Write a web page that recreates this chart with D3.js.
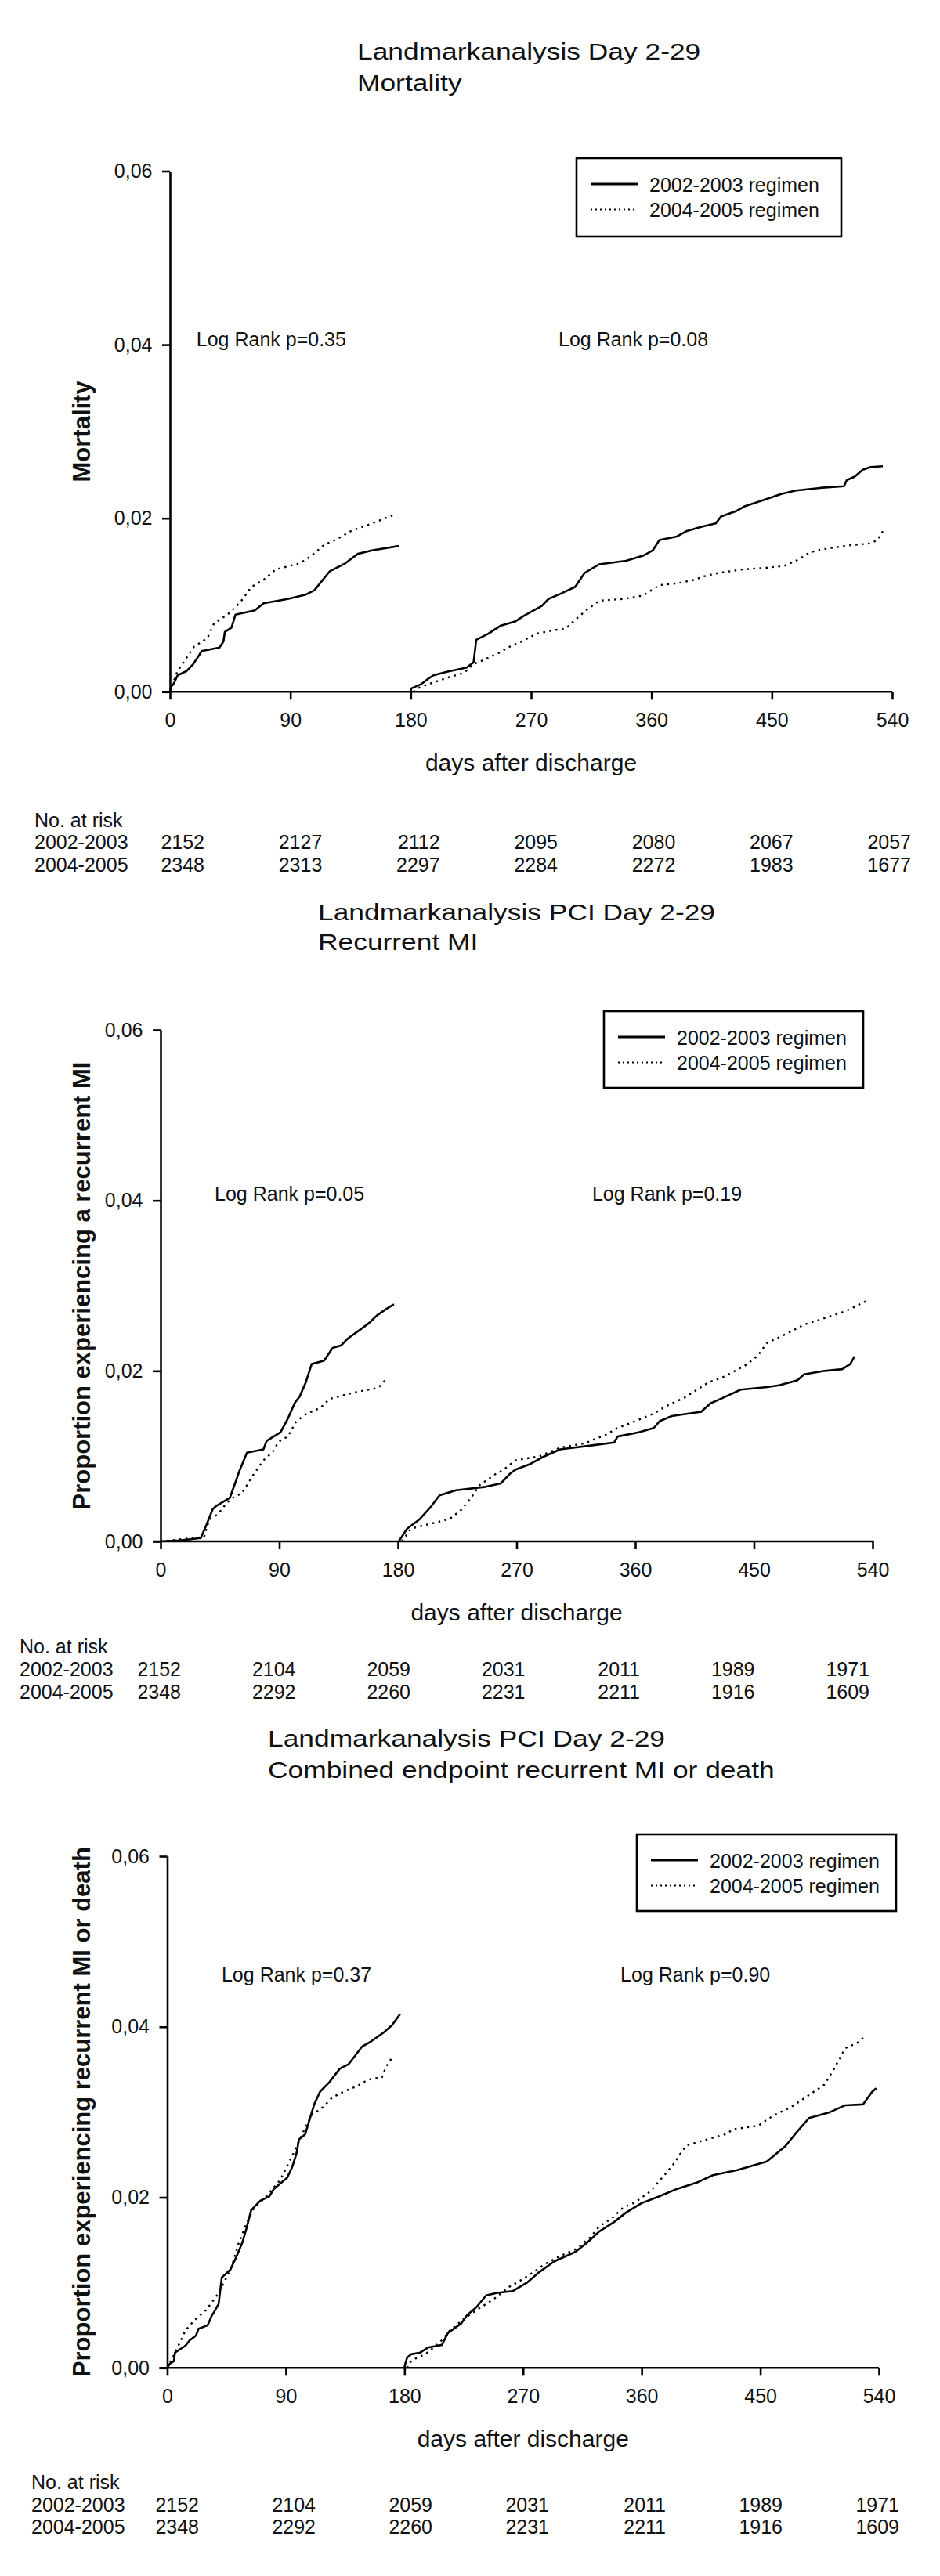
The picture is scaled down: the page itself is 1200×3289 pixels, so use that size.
<!DOCTYPE html>
<html><head><meta charset="utf-8">
<script src="https://cdn.jsdelivr.net/npm/d3@7"></script>
<style>
body{margin:0;background:#fff}
svg{display:block}
text{font-family:"Liberation Sans",Arial,sans-serif;fill:#111}
</style>
</head><body>
<svg id="chart" width="1200" height="3289"></svg>
<script>
// ---------- tick labels / categories ----------
const xTicks = [0, 90, 180, 270, 360, 450, 540];
const yTicks = [0, 0.02, 0.04, 0.06];
const seriesNames = ["2002-2003 regimen", "2004-2005 regimen"];
const riskRowLabels = ["2002-2003", "2004-2005"];
const riskDays = [0, 90, 180, 270, 360, 450, 540];

// ---------- Panel 1: Mortality ----------
const p1_0203_early = [[0,0],[0.9,0.0006],[3,0.001],[5.7,0.0019],[12.5,0.0024],[17.4,0.0032],[21.3,0.0041],[23.7,0.0047],[37,0.0051],[40,0.0058],[41,0.0069],[46,0.0074],[49,0.0089],[63.5,0.0094],[70,0.0102],[88,0.0107],[101.6,0.0112],[108,0.0117],[119.5,0.0139],[131,0.0148],[140.5,0.0159],[151,0.0163],[171,0.0168]];
const p1_0405_early = [[0,0],[2,0.0008],[4.5,0.002],[6.6,0.0026],[10.5,0.0035],[14.5,0.0044],[18,0.0052],[28,0.0062],[33,0.0079],[43,0.0089],[52,0.0102],[61,0.0121],[70,0.0129],[79,0.0141],[97,0.0148],[106,0.0157],[115,0.0169],[126,0.0177],[135,0.0185],[151,0.0194],[169,0.0205]];
const p1_0203_late = [[180,0],[180.5,0.0004],[188,0.0009],[193,0.0015],[197,0.0019],[207,0.0023],[222,0.0028],[227,0.0034],[229,0.006],[238,0.0067],[247,0.0076],[258,0.0081],[265,0.0088],[278,0.0099],[283,0.0107],[292,0.0113],[303,0.0121],[310,0.0137],[321,0.0147],[341,0.0151],[354,0.0157],[361,0.0163],[366,0.0175],[379,0.0179],[386,0.0185],[397,0.019],[408,0.0194],[412,0.0202],[423,0.0208],[430,0.0214],[442,0.022],[457,0.0228],[468,0.0232],[486,0.0235],[504,0.0237],[506,0.0244],[512,0.0248],[518,0.0256],[524,0.0259],[533,0.026]];
const p1_0405_late = [[182,0],[186.6,0.0005],[195.5,0.001],[207,0.0016],[220,0.0022],[227,0.0032],[233.5,0.0036],[245,0.0044],[254,0.0052],[263,0.0058],[274,0.0067],[287,0.0071],[296,0.0073],[303,0.0083],[312,0.0095],[321,0.0105],[339,0.0107],[354,0.0111],[366,0.0123],[379,0.0125],[392,0.0129],[399,0.0133],[410,0.0137],[428,0.0141],[446,0.0143],[459,0.0145],[468,0.0151],[479,0.0161],[491,0.0165],[509,0.0169],[524,0.0171],[529,0.0175],[533,0.0185]];
const p1_risk0203 = [2152, 2127, 2112, 2095, 2080, 2067, 2057];
const p1_risk0405 = [2348, 2313, 2297, 2284, 2272, 1983, 1677];

// ---------- Panel 2: Recurrent MI ----------
const p2_0203_early = [[0,0],[14.6,0.0001],[30.5,0.0004],[34.7,0.0019],[39.6,0.0038],[42.6,0.0042],[52.5,0.0051],[56.5,0.0068],[59.4,0.0081],[65.5,0.0104],[78,0.0108],[80.5,0.0118],[91,0.0128],[96.5,0.0144],[102,0.0163],[105.5,0.017],[110,0.0186],[114.6,0.0208],[124,0.0212],[130.5,0.0227],[137,0.023],[142,0.0238],[151,0.0248],[158,0.0256],[164,0.0265],[171.5,0.0273],[177,0.0278]];
const p2_0405_early = [[0,0],[19,0.0003],[33,0.0005],[36.7,0.0025],[43.6,0.0032],[50,0.0045],[56.5,0.0053],[61.4,0.0056],[66.4,0.0068],[69.4,0.0076],[78,0.0095],[85,0.0105],[89.6,0.0117],[96.5,0.0123],[103,0.0141],[110,0.0149],[121.5,0.0157],[128,0.0167],[140,0.0172],[151,0.0176],[165,0.018],[171.5,0.0191]];
const p2_0203_late = [[180.6,0],[187,0.0015],[196.5,0.0026],[204.7,0.004],[211.5,0.0054],[224,0.006],[246.5,0.0064],[258,0.0068],[264.7,0.0079],[269,0.0084],[280.7,0.0091],[290,0.0099],[303,0.0108],[324,0.0112],[344,0.0116],[346.6,0.0123],[362.6,0.0128],[374,0.0133],[378.5,0.0141],[387.6,0.0147],[410,0.0152],[417,0.0162],[426,0.0168],[440,0.0178],[460,0.0181],[469,0.0183],[483,0.0189],[488,0.0196],[503.6,0.02],[517,0.0202],[523,0.0208],[526.3,0.0217]];
const p2_0405_late = [[183,0],[190,0.0015],[205.6,0.0021],[219,0.0026],[228,0.0037],[235,0.005],[242,0.0066],[253,0.0078],[260,0.0084],[269,0.0095],[287.5,0.01],[303,0.011],[321.6,0.0115],[337.5,0.0125],[346.6,0.0133],[360,0.0141],[374,0.015],[385,0.016],[396.7,0.0168],[415,0.0186],[428.5,0.0194],[444,0.0207],[453,0.0218],[460,0.0233],[474,0.0243],[487.6,0.0254],[503.6,0.0262],[519.5,0.027],[535.4,0.0282]];
const p2_risk0203 = [2152, 2104, 2059, 2031, 2011, 1989, 1971];
const p2_risk0405 = [2348, 2292, 2260, 2231, 2211, 1916, 1609];

// ---------- Panel 3: Combined endpoint ----------
const p3_0203_early = [[0,0],[2,0.0005],[5,0.0008],[5.9,0.0018],[13.8,0.0026],[16.8,0.0032],[21.8,0.0038],[23.8,0.0046],[30.7,0.005],[33.7,0.0061],[36.1,0.0067],[39,0.0075],[41.4,0.0106],[47.8,0.0115],[52.4,0.013],[57,0.0147],[60,0.0163],[63.7,0.0185],[70.6,0.0196],[77.4,0.0201],[81,0.021],[91,0.0223],[94.7,0.0235],[98,0.0251],[100,0.0268],[104.7,0.0274],[111.5,0.0309],[116,0.0324],[123,0.0335],[131,0.0351],[137.5,0.0356],[148,0.0377],[154.8,0.0383],[164,0.0393],[170.7,0.0402],[176.7,0.0415]];
const p3_0405_early = [[0,0],[3.9,0.0011],[7.8,0.0024],[13.8,0.0044],[20.7,0.0056],[26.6,0.0064],[29.6,0.0068],[37.3,0.0084],[43,0.01],[49,0.0119],[53.7,0.0144],[60,0.0169],[66,0.0188],[75,0.0201],[85.6,0.022],[95.6,0.0251],[102.4,0.0274],[109.3,0.0296],[118.4,0.0306],[125,0.0317],[134,0.0324],[143.4,0.033],[152.5,0.0338],[163,0.0341],[166,0.0353],[170.7,0.0364]];
const p3_0203_late = [[180,0],[180.5,0.0004],[182,0.0012],[185,0.0016],[192,0.0018],[198,0.0024],[208.5,0.0027],[213,0.0041],[223,0.0052],[227.6,0.0062],[234.5,0.0071],[242,0.0085],[250.4,0.0088],[262,0.009],[273,0.01],[282,0.0112],[293.7,0.0125],[309.6,0.0136],[318.7,0.0147],[327.8,0.016],[339,0.0171],[348,0.0182],[359.7,0.0193],[373,0.0201],[387,0.021],[403,0.0218],[414,0.0226],[432.5,0.0232],[455,0.0242],[462,0.0251],[469,0.026],[478,0.0277],[487,0.0293],[503,0.03],[514.5,0.0308],[528,0.0309],[535,0.0324],[538,0.0328]];
const p3_0405_late = [[182,0],[183.6,0.0006],[188.5,0.0011],[195.8,0.0016],[207,0.003],[214,0.0043],[225.4,0.0058],[237,0.007],[248,0.0081],[259.5,0.0095],[268.6,0.0103],[277.7,0.0112],[286.8,0.0122],[298,0.0131],[309.6,0.0139],[321,0.0153],[327.8,0.0166],[337,0.0175],[346,0.0188],[355,0.0194],[366.5,0.0207],[375.6,0.0223],[384.7,0.024],[389.3,0.0251],[394,0.0261],[409.8,0.0268],[423.5,0.0274],[430,0.028],[448.5,0.0284],[460,0.0296],[473.5,0.0306],[487,0.032],[498.5,0.0332],[505,0.0348],[514.5,0.0375],[523.6,0.0381],[528,0.0387]];
const p3_risk0203 = [2152, 2104, 2059, 2031, 2011, 1989, 1971];
const p3_risk0405 = [2348, 2292, 2260, 2231, 2211, 1916, 1609];

// ---------- texts ----------
const titles = [
  ["Landmarkanalysis Day 2-29", "Mortality"],
  ["Landmarkanalysis PCI Day 2-29", "Recurrent MI"],
  ["Landmarkanalysis PCI Day 2-29", "Combined endpoint recurrent MI or death"]
];
const yLabels = ["Mortality", "Proportion experiencing a recurrent MI", "Proportion experiencing recurrent MI or death"];
const logRanks = [
  ["Log Rank p=0.35", "Log Rank p=0.08"],
  ["Log Rank p=0.05", "Log Rank p=0.19"],
  ["Log Rank p=0.37", "Log Rank p=0.90"]
];

// ---------- layout (pixels) ----------
const layouts = [
  {x0:217, x1:1139, yTop:218.5, yBot:883.3, tx:456, ty1:76, ty2:116,
   leg:{x:736, y:202, w:338, h:100}, lrY:0.0398, lrX:[19.8, 290.5],
   riskX:[261, 1163], riskLabelX:44, riskY:[1056, 1084, 1113]},
  {x0:205, x1:1114, yTop:1315, yBot:1968, tx:406, ty1:1175, ty2:1213,
   leg:{x:771, y:1291, w:331, h:98}, lrY:0.0400, lrX:[41, 327.3],
   riskX:[231, 1110], riskLabelX:25, riskY:[2111, 2140, 2168.5]},
  {x0:213.5, x1:1122, yTop:2370, yBot:3023.3, tx:342, ty1:2230, ty2:2270,
   leg:{x:813, y:2342, w:331, h:98}, lrY:0.0453, lrX:[41.3, 343.9],
   riskX:[254, 1148], riskLabelX:40, riskY:[3178, 3206.5, 3235]}
];

const panelSeries = [
  [[p1_0203_early, p1_0203_late], [p1_0405_early, p1_0405_late]],
  [[p2_0203_early, p2_0203_late], [p2_0405_early, p2_0405_late]],
  [[p3_0203_early, p3_0203_late], [p3_0405_early, p3_0405_late]]
];
const panelRisk = [[p1_risk0203, p1_risk0405], [p2_risk0203, p2_risk0405], [p3_risk0203, p3_risk0405]];

const dashes = [null, "2.5 5.5"];
const svg = d3.select("#chart");
const fmtY = v => d3.format(".2f")(v).replace(".", ",");

layouts.forEach((L, i) => {
  const g = svg.append("g");
  const x = d3.scaleLinear().domain([0, 540]).range([L.x0, L.x1]);
  const y = d3.scaleLinear().domain([0, 0.06]).range([L.yBot, L.yTop]);

  // title (stretched horizontally like the reference)
  titles[i].forEach((t, k) => {
    g.append("text")
      .attr("transform", `translate(${L.tx},${k === 0 ? L.ty1 : L.ty2}) scale(1.22,1)`)
      .attr("font-size", 29).text(t);
  });

  // axes
  const xAxis = d3.axisBottom(x).tickValues(xTicks).tickSize(10).tickSizeOuter(0).tickPadding(17)
    .tickFormat(d3.format("d"));
  const yAxis = d3.axisLeft(y).tickValues(yTicks).tickSize(10).tickSizeOuter(0).tickPadding(12.5)
    .tickFormat(fmtY);
  const gx = g.append("g").attr("transform", `translate(0,${L.yBot})`).call(xAxis);
  const gy = g.append("g").attr("transform", `translate(${L.x0},0)`).call(yAxis);
  [gx, gy].forEach(a => {
    a.selectAll("path,line").attr("stroke", "#000").attr("stroke-width", 2.6);
    a.selectAll("text").attr("font-size", 25).attr("fill", "#111")
      .style("font-family", '"Liberation Sans",Arial,sans-serif');
  });
  // x-axis line continues left to the 0,00 tick end
  gx.select(".domain").attr("d", `M${L.x0 - 10},0H${L.x1}`);

  // curves
  const line = d3.line().x(d => x(d[0])).y(d => y(d[1]));
  panelSeries[i].forEach((parts, s) => {
    parts.forEach(p => {
      g.append("path").datum(p).attr("d", line)
        .attr("fill", "none").attr("stroke", "#000")
        .attr("stroke-width", s === 0 ? 2.6 : 2.4)
        .attr("stroke-linejoin", "round")
        .attr("stroke-dasharray", dashes[s]);
    });
  });

  // log rank annotations
  logRanks[i].forEach((t, k) => {
    g.append("text").attr("x", x(L.lrX[k])).attr("y", y(L.lrY))
      .attr("font-size", 25).text(t);
  });

  // legend
  const lg = g.append("g").attr("transform", `translate(${L.leg.x},${L.leg.y})`);
  lg.append("rect").attr("width", L.leg.w).attr("height", L.leg.h)
    .attr("fill", "#fff").attr("stroke", "#000").attr("stroke-width", 2.6);
  seriesNames.forEach((n, k) => {
    const yy = 33 + k * 32.5;
    lg.append("line").attr("x1", 18).attr("x2", 78).attr("y1", yy).attr("y2", yy)
      .attr("stroke", "#000").attr("stroke-width", k === 0 ? 3 : 2)
      .attr("stroke-dasharray", k === 0 ? null : "2 4");
    lg.append("text").attr("x", 93).attr("y", yy + 9.5).attr("font-size", 25).text(n);
  });

  // y label
  const cy = (L.yTop + L.yBot) / 2;
  g.append("text").attr("transform", `translate(115,${cy}) rotate(-90)`)
    .attr("text-anchor", "middle").attr("font-weight", "bold").attr("font-size", 31)
    .text(yLabels[i]);

  // x label
  g.append("text").attr("x", (L.x0 + L.x1) / 2).attr("y", L.yBot + 101)
    .attr("text-anchor", "middle").attr("font-size", 30).text("days after discharge");

  // number at risk table
  const rx = d3.scaleLinear().domain([0, 540]).range(L.riskX);
  g.append("text").attr("x", L.riskLabelX).attr("y", L.riskY[0]).attr("font-size", 25).text("No. at risk");
  panelRisk[i].forEach((row, r) => {
    g.append("text").attr("x", L.riskLabelX).attr("y", L.riskY[r + 1]).attr("font-size", 25).text(riskRowLabels[r]);
    g.selectAll(null).data(row).enter().append("text")
      .attr("x", (d, j) => rx(riskDays[j])).attr("y", L.riskY[r + 1])
      .attr("text-anchor", "end").attr("font-size", 25).text(d => d);
  });
});
</script>
</body></html>
